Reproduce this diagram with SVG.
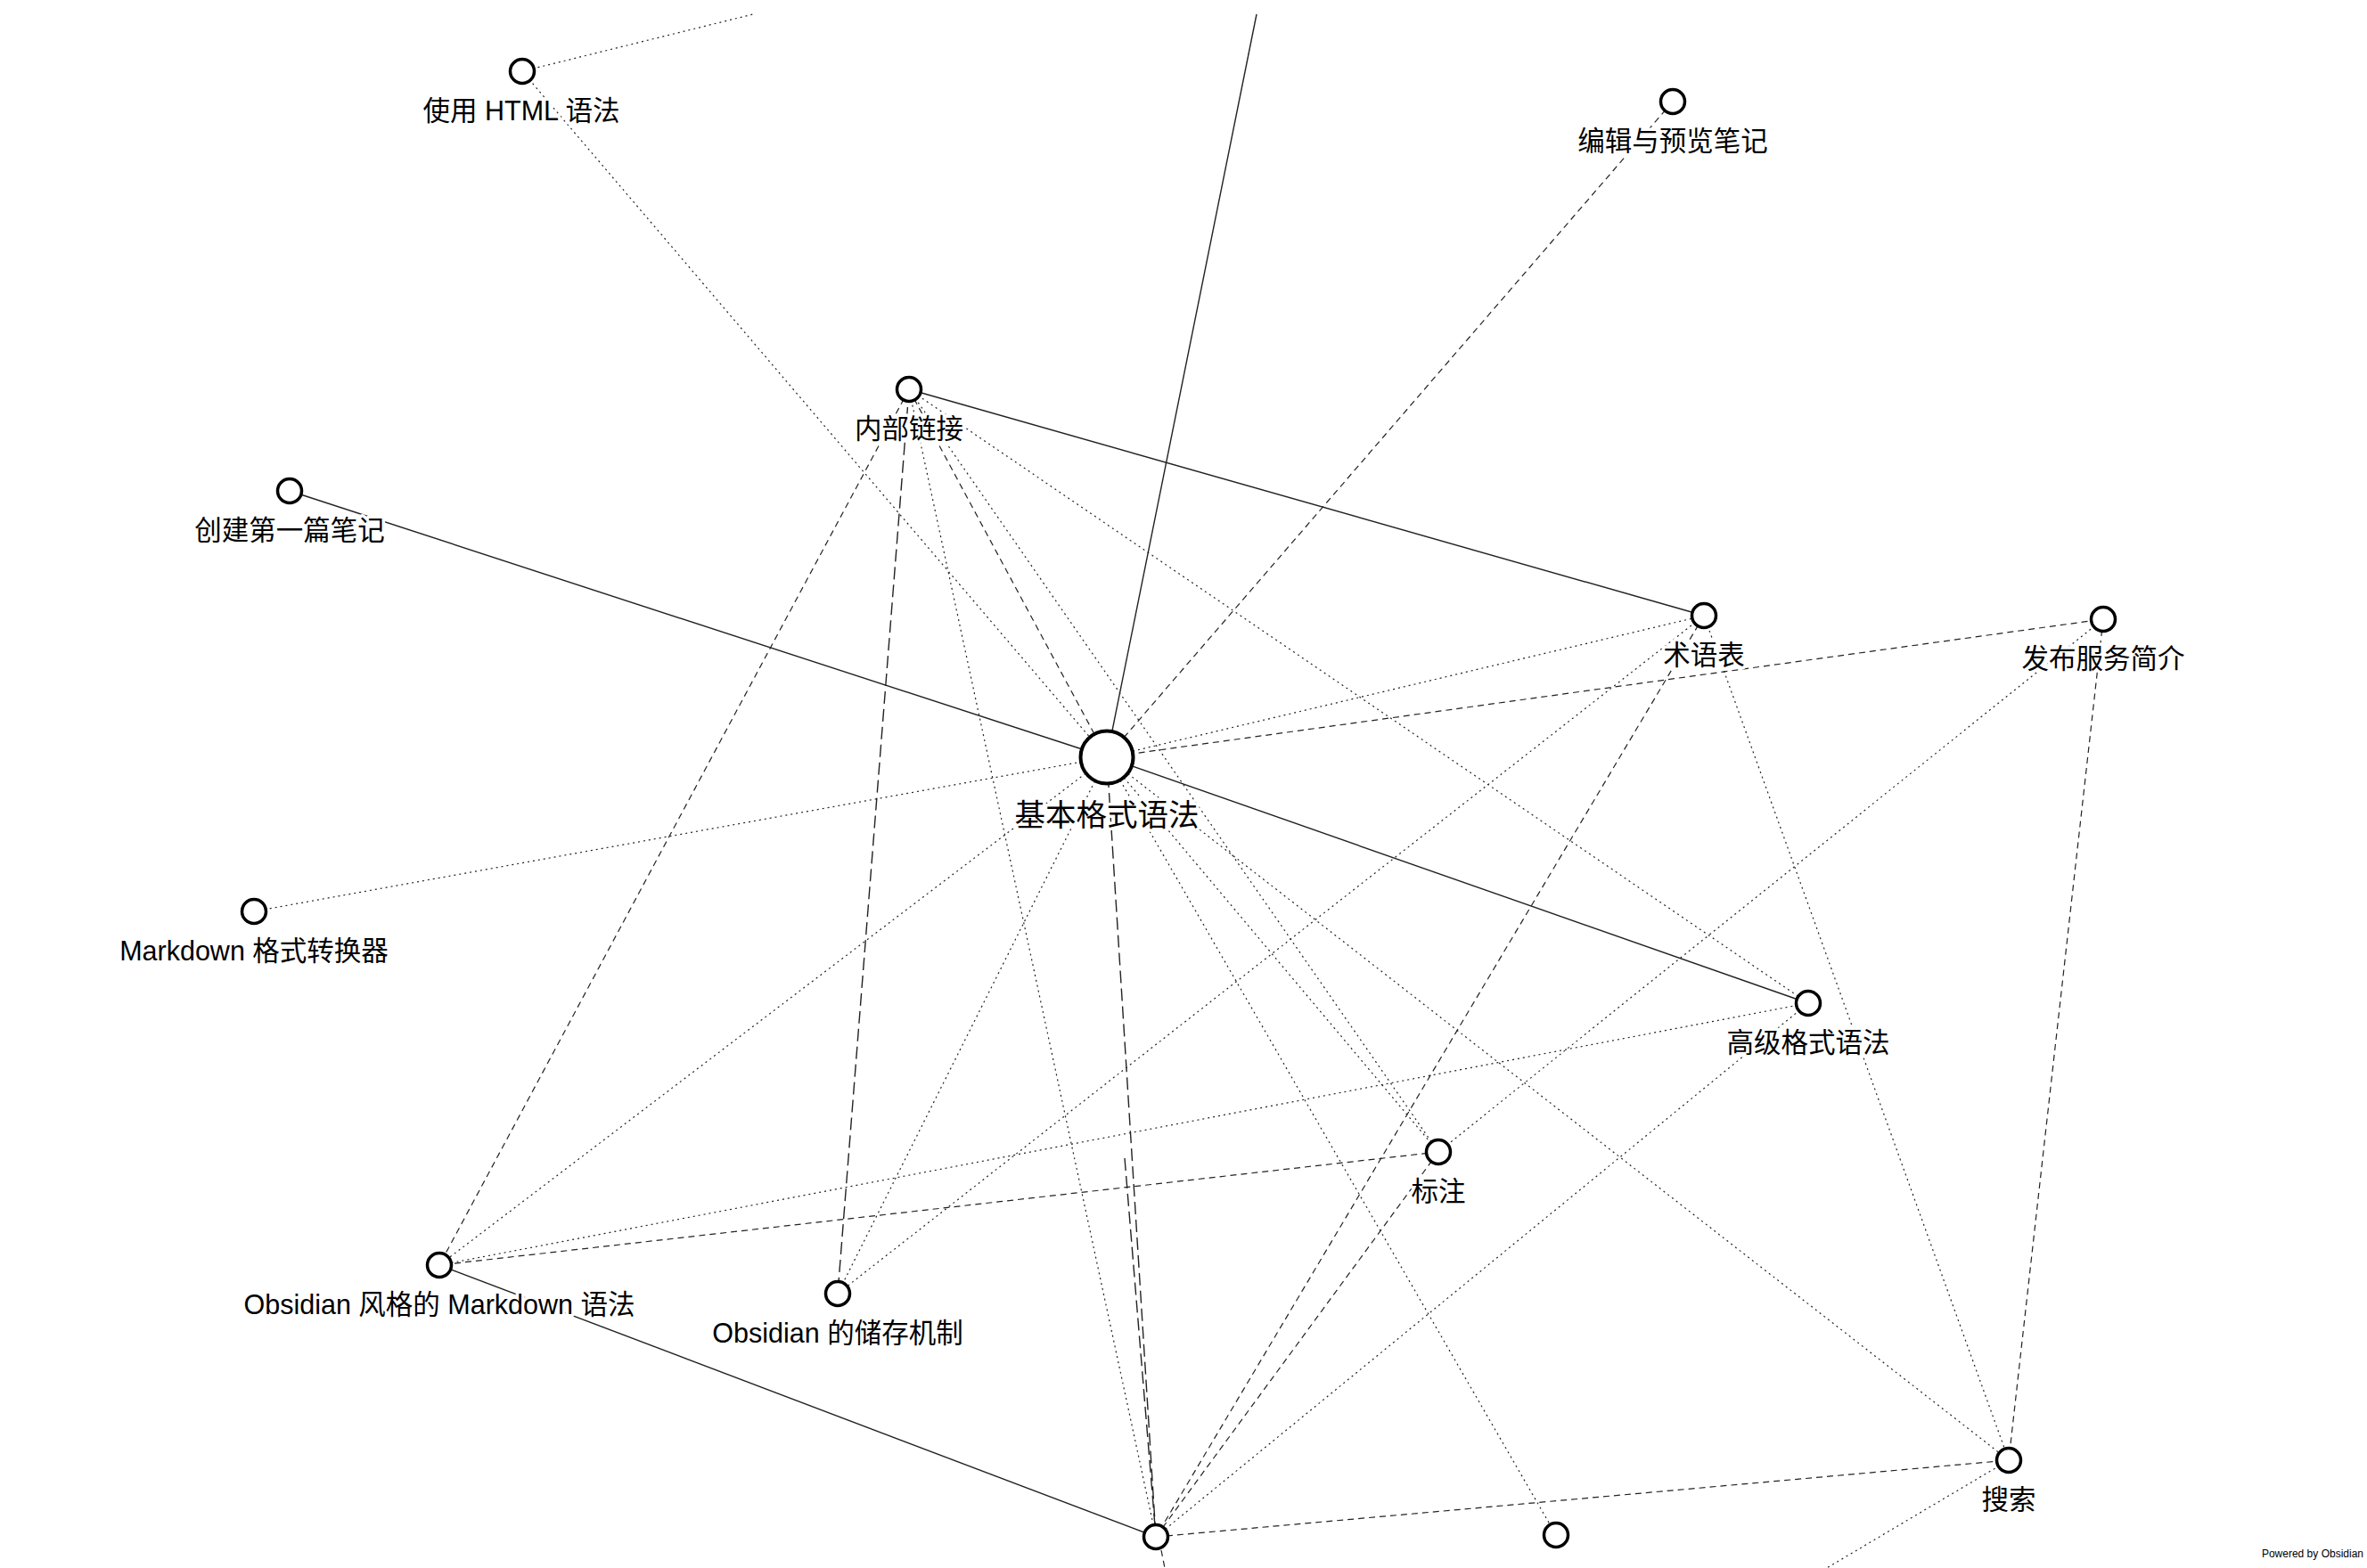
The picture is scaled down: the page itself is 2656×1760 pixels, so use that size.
<svg xmlns="http://www.w3.org/2000/svg" width="2656" height="1760" viewBox="0 0 2656 1760">
<style>
.bg{fill:#fff}
.e{fill:none;stroke:#222;stroke-width:1.2}
.s{stroke-width:1.4}
.d{stroke-dasharray:7 5}
.p{stroke-dasharray:2 4}
.l{stroke-dasharray:14 6;stroke-width:1.4}
.n{fill:#fff;stroke:#000;stroke-width:3.5}
.big{stroke-width:4}
.t{font-family:"Liberation Sans","Noto Sans CJK SC",sans-serif;font-size:30.5px;fill:#000;text-anchor:middle;stroke:#fff;stroke-width:7;stroke-linejoin:round;paint-order:stroke}
.tb{font-size:34.5px}
.pw{font-family:"Liberation Sans",sans-serif;font-size:12px;fill:#000;text-anchor:end}
</style>
<rect class="bg" x="0" y="0" width="2656" height="1760"/>
<g id="connectors">
<line class="e p" x1="586" y1="80" x2="845" y2="16"/>
<line class="e p" x1="586" y1="80" x2="1242" y2="850"/>
<line class="e s" x1="1410" y1="16" x2="1242" y2="850"/>
<line class="e d" x1="1877" y1="114" x2="1242" y2="850"/>
<line class="e s" x1="1020" y1="437" x2="1912" y2="691"/>
<line class="e s" x1="325" y1="551" x2="1242" y2="850"/>
<line class="e p" x1="1242" y1="850" x2="1912" y2="691"/>
<line class="e d" x1="1242" y1="850" x2="2360" y2="695"/>
<line class="e p" x1="285" y1="1023" x2="1242" y2="850"/>
<line class="e s" x1="1242" y1="850" x2="2029" y2="1126"/>
<line class="e p" x1="1020" y1="437" x2="2029" y2="1126"/>
<line class="e p" x1="1020" y1="437" x2="1614" y2="1293"/>
<line class="e d" x1="1020" y1="437" x2="1242" y2="850"/>
<line class="e p" x1="1020" y1="437" x2="1297" y2="1725"/>
<line class="e l" x1="1020" y1="437" x2="940" y2="1452"/>
<line class="e d" x1="1020" y1="437" x2="493" y2="1420"/>
<line class="e p" x1="1912" y1="691" x2="940" y2="1452"/>
<line class="e d" x1="1912" y1="691" x2="1297" y2="1725"/>
<line class="e p" x1="1912" y1="691" x2="2254" y2="1639"/>
<line class="e p" x1="2360" y1="695" x2="1614" y2="1293"/>
<line class="e d" x1="2360" y1="695" x2="2254" y2="1639"/>
<line class="e p" x1="1242" y1="850" x2="1614" y2="1293"/>
<line class="e p" x1="1242" y1="850" x2="1746" y2="1723"/>
<line class="e p" x1="1242" y1="850" x2="2254" y2="1639"/>
<line class="e p" x1="1242" y1="850" x2="493" y2="1420"/>
<line class="e p" x1="1242" y1="850" x2="940" y2="1452"/>
<line class="e l" x1="1242" y1="850" x2="1297" y2="1725"/>
<line class="e l" x1="1262" y1="1300" x2="1297" y2="1725"/>
<line class="e p" x1="2029" y1="1126" x2="493" y2="1420"/>
<line class="e p" x1="2029" y1="1126" x2="1297" y2="1725"/>
<line class="e d" x1="1614" y1="1293" x2="493" y2="1420"/>
<line class="e d" x1="1614" y1="1293" x2="1297" y2="1725"/>
<line class="e s" x1="493" y1="1420" x2="1297" y2="1725"/>
<line class="e d" x1="1297" y1="1725" x2="2254" y2="1639"/>
<line class="e p" x1="2254" y1="1639" x2="2033" y2="1770"/>
<line class="e d" x1="1303" y1="1740" x2="1308" y2="1765"/>
</g>
<g id="node-html"><circle class="n" cx="586" cy="80" r="13.5"/><text class="t" x="585" y="135">使用 HTML 语法</text></g>
<g id="node-edit"><circle class="n" cx="1877" cy="114" r="13.5"/><text class="t" x="1877" y="169">编辑与预览笔记</text></g>
<g id="node-internal-links"><circle class="n" cx="1020" cy="437" r="13.5"/><text class="t" x="1020" y="492">内部链接</text></g>
<g id="node-first-note"><circle class="n" cx="325" cy="551" r="13.5"/><text class="t" x="325" y="606">创建第一篇笔记</text></g>
<g id="node-glossary"><circle class="n" cx="1912" cy="691" r="13.5"/><text class="t" x="1912" y="746">术语表</text></g>
<g id="node-publish"><circle class="n" cx="2360" cy="695" r="13.5"/><text class="t" x="2360" y="750">发布服务简介</text></g>
<g id="node-basic"><circle class="n big" cx="1242" cy="850" r="29.5"/><text class="t tb" x="1242" y="927">基本格式语法</text></g>
<g id="node-converter"><circle class="n" cx="285" cy="1023" r="13.5"/><text class="t" x="285" y="1078">Markdown 格式转换器</text></g>
<g id="node-advanced"><circle class="n" cx="2029" cy="1126" r="13.5"/><text class="t" x="2029" y="1181">高级格式语法</text></g>
<g id="node-callouts"><circle class="n" cx="1614" cy="1293" r="13.5"/><text class="t" x="1614" y="1348">标注</text></g>
<g id="node-ofm"><circle class="n" cx="493" cy="1420" r="13.5"/><text class="t" x="493" y="1475">Obsidian 风格的 Markdown 语法</text></g>
<g id="node-storage"><circle class="n" cx="940" cy="1452" r="13.5"/><text class="t" x="940" y="1507">Obsidian 的储存机制</text></g>
<g id="node-search"><circle class="n" cx="2254" cy="1639" r="13.5"/><text class="t" x="2254" y="1694">搜索</text></g>
<g id="node-bottom-1"><circle class="n" cx="1297" cy="1725" r="13.5"/></g>
<g id="node-bottom-2"><circle class="n" cx="1746" cy="1723" r="13.5"/></g>
<text class="pw" x="2652" y="1748">Powered by Obsidian</text>
</svg>
